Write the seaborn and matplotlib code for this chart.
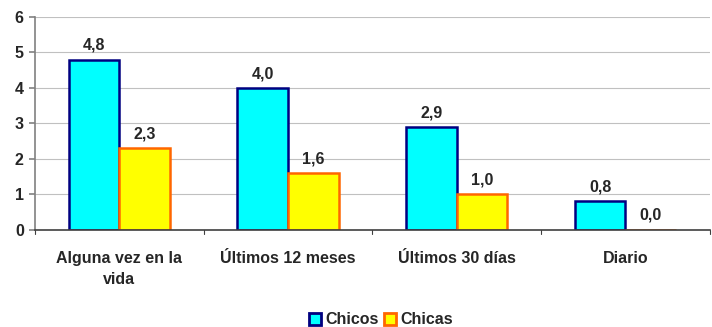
import matplotlib
matplotlib.use("Agg")
import matplotlib.pyplot as plt
import seaborn as sns
import pandas as pd
import numpy as np

categories = ["Alguna vez en la\nvida", "Últimos 12 meses", "Últimos 30 días", "Diario"]
chicos = [4.8, 4.0, 2.9, 0.8]
chicas = [2.3, 1.6, 1.0, 0.0]
series = ["Chicos", "Chicas"]
face_colors = {"Chicos": "#00FFFF", "Chicas": "#FFFF00"}
edge_colors = {"Chicos": "#000080", "Chicas": "#FF6600"}

df = pd.DataFrame({
    "cat": categories * 2,
    "serie": ["Chicos"] * len(categories) + ["Chicas"] * len(categories),
    "valor": chicos + chicas,
})

sns.set_style("white")
plt.rcParams["font.family"] = ["Liberation Sans", "DejaVu Sans"]
plt.rcParams["font.weight"] = "bold"
FS = 11.5

fig = plt.figure(figsize=(7.12, 3.27), dpi=100)
ax = fig.add_axes([0.049, 0.297, 0.948, 0.651])

sns.barplot(data=df, x="cat", y="valor", hue="serie", hue_order=series,
            palette=face_colors, saturation=1, width=0.6, gap=0, ax=ax, legend=True)

for cont, s in zip(ax.containers, series):
    for bar in cont:
        bar.set_edgecolor(edge_colors[s])
        bar.set_linewidth(1.8)
    ax.bar_label(cont, labels=[f"{v:.1f}".replace(".", ",") for v in cont.datavalues],
                 padding=5, fontsize=FS, fontweight="bold")

ax.set_ylim(0, 6)
ax.set_xlim(-0.5, len(categories) - 0.5)
ax.set_yticks(range(0, 7))
ax.yaxis.grid(True, color="#c0c0c0", linewidth=0.8)
ax.set_axisbelow(True)
ax.set_xlabel("")
ax.set_ylabel("")
for sp in ["top", "right"]:
    ax.spines[sp].set_visible(False)
ax.spines["left"].set_color("#808080")
ax.spines["left"].set_linewidth(1.2)
ax.spines["bottom"].set_color("#404040")
ax.spines["bottom"].set_linewidth(1.2)
ax.tick_params(axis="y", left=True, length=4, width=1.2, color="#808080", labelsize=FS, pad=4)
ax.tick_params(axis="x", bottom=False, labelsize=FS, pad=12)
for lbl in ax.get_xticklabels() + ax.get_yticklabels():
    lbl.set_fontweight("bold")
    lbl.set_linespacing(1.5)

# boundary ticks between categories
for b in np.arange(-0.5, len(categories), 1.0):
    ax.plot([b, b], [0, -0.12], color="#404040", lw=0.8, clip_on=False)

handles, labels = ax.get_legend_handles_labels()
ax.legend_.remove()
leg = fig.legend(handles, labels, loc="lower center", bbox_to_anchor=(0.535, -0.045), ncol=2,
                 frameon=False, fontsize=FS, handlelength=0.75, handleheight=0.75,
                 handletextpad=0.25, columnspacing=0.35)
for h, s in zip(leg.legend_handles, series):
    h.set_edgecolor(edge_colors[s])
    h.set_linewidth(2)
for t in leg.get_texts():
    t.set_fontweight("bold")

fig.savefig("out.png", dpi=100)
